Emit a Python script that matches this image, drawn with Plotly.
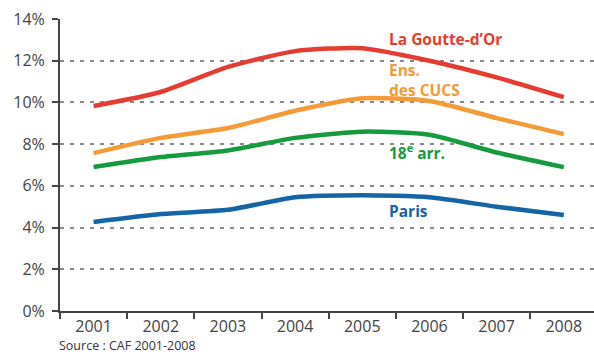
import plotly.graph_objects as go

years = ["2001", "2002", "2003", "2004", "2005", "2006", "2007", "2008"]
goutte_dor = [9.83, 10.5, 11.7, 12.46, 12.6, 12.0, 11.2, 10.25]
cucs = [7.57, 8.3, 8.77, 9.6, 10.2, 10.07, 9.25, 8.48]
arr18 = [6.9, 7.38, 7.7, 8.3, 8.6, 8.45, 7.6, 6.9]
paris = [4.27, 4.65, 4.85, 5.45, 5.55, 5.45, 5.0, 4.6]
y_ticks = [0, 2, 4, 6, 8, 10, 12, 14]

RED = "#e43d30"
ORANGE = "#f49a36"
GREEN = "#159a3c"
BLUE = "#1464a6"

fig = go.Figure()
for vals, col in [(goutte_dor, RED), (cucs, ORANGE), (arr18, GREEN), (paris, BLUE)]:
    fig.add_trace(go.Scatter(
        x=years, y=vals, mode="lines",
        line=dict(color=col, width=4.5, shape="spline", smoothing=0.6),
        showlegend=False, hoverinfo="skip",
    ))

label_font = "Open Sans, DejaVu Sans, sans-serif"
labels = [
    ("La Goutte-d’Or", 13.05, RED),
    ("Ens.<br>des CUCS", 11.07, ORANGE),
    ("18<sup>e</sup> arr.", 7.6, GREEN),
    ("Paris", 4.78, BLUE),
]
for text, yv, col in labels:
    fig.add_annotation(
        x=4.37, y=yv, xref="x", yref="y", text="<b>" + text + "</b>",
        showarrow=False, xanchor="left", yanchor="middle", align="left",
        font=dict(family=label_font, size=15.5, color=col),
    )

fig.add_annotation(
    x=-0.003, y=-0.086, xref="paper", yref="paper", xanchor="left", yanchor="top",
    text="Source : CAF 2001-2008", showarrow=False, borderpad=0,
    font=dict(family=label_font, size=12.5, color="#333333"),
)

fig.update_layout(
    width=594, height=357,
    margin=dict(l=60, r=0, t=19, b=46),
    paper_bgcolor="white", plot_bgcolor="white",
    font=dict(family=label_font, color="#444444", size=16),
)
fig.update_xaxes(
    type="category", range=[-0.5, 7.45],
    showline=True, linecolor="#444444", linewidth=2,
    ticks="outside", tickson="boundaries", ticklen=6, tickwidth=2, tickcolor="#444444",
    showgrid=False, tickfont=dict(size=16, color="#444444"),
)
fig.update_yaxes(
    range=[0, 14], tickvals=y_ticks, ticktext=[f"{v}%" for v in y_ticks],
    showline=True, linecolor="#444444", linewidth=2,
    ticks="outside", ticklen=6, tickwidth=2, tickcolor="#444444",
    ticklabelstandoff=4,
    showgrid=True, gridcolor="#8a8a8a", gridwidth=1.5, griddash="4px,6px",
    zeroline=False, tickfont=dict(size=16, color="#444444"),
)

fig.write_html("out.html")
